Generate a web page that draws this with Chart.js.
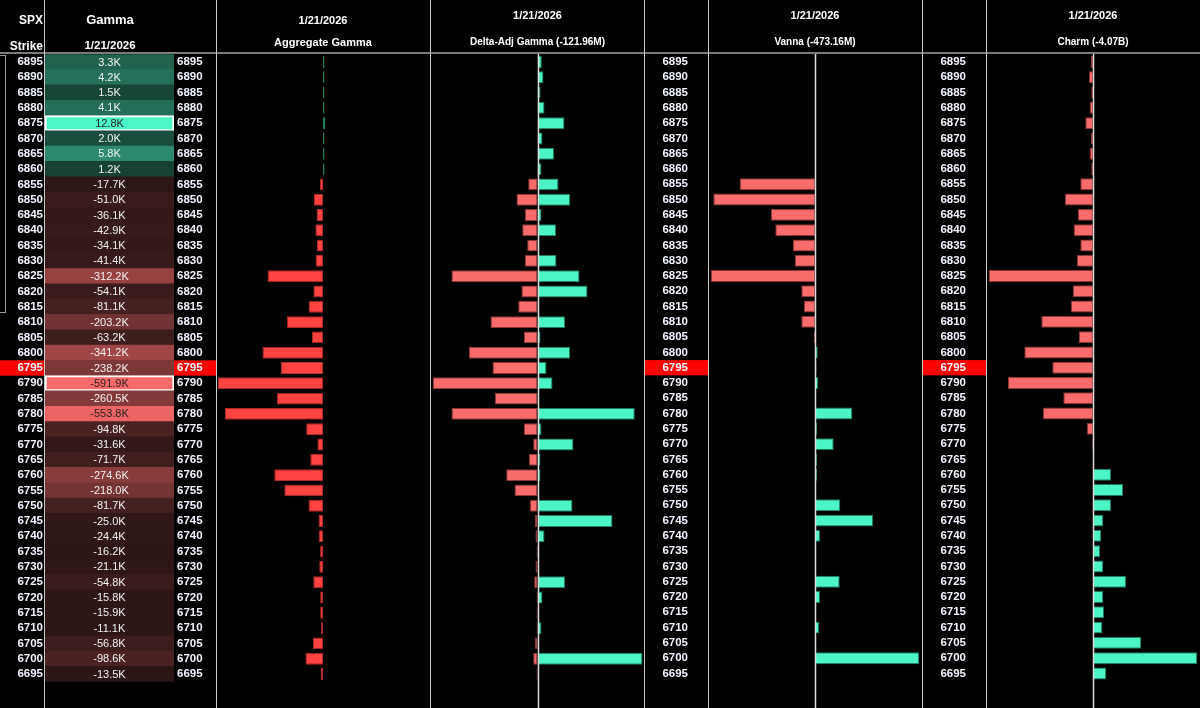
<!DOCTYPE html>
<html>
<head>
<meta charset="utf-8">
<title>SPX Gamma / Vanna / Charm 1/21/2026</title>
<script src="https://cdn.jsdelivr.net/npm/chart.js@4.4.1/dist/chart.umd.min.js"></script>
<style>
  html, body { margin: 0; padding: 0; background: #000; }
  #wrap { position: relative; width: 1200px; height: 708px; overflow: hidden; background: #000;
          font-family: 'Liberation Sans', Arial, sans-serif; color: #fff; }
  .panel { position: absolute; top: 0; height: 708px; }
  .hdr { position: absolute; font-weight: bold; white-space: nowrap; text-align: center; line-height: 1; z-index: 2; }
  .vline { position: absolute; top: 0; width: 1px; height: 708px; background: #c8c8c8; z-index: 3; }
  .hline { position: absolute; left: 0; top: 52px; width: 1200px; height: 2px; background: #7a7a7a; z-index: 3; }
  .box { position: absolute; left: 0; top: 55px; width: 5px; height: 256px; border: 1px solid #9a9a9a; border-left: none; z-index: 3; }
</style>
</head>
<body>
<div id="wrap">
  <div class="panel" style="left:0;width:216px"><canvas id="heat-chart"></canvas></div>
  <div class="panel" style="left:216px;width:214px"><canvas id="agg-chart"></canvas></div>
  <div class="panel" style="left:430px;width:215px"><canvas id="delta-chart"></canvas></div>
  <div class="panel" style="left:645px;width:277px"><canvas id="vanna-chart"></canvas></div>
  <div class="panel" style="left:922px;width:278px"><canvas id="charm-chart"></canvas></div>

  <!-- headers -->
  <div class="hdr" style="left:0;width:43px;top:14px;font-size:12px;text-align:right">SPX</div>
  <div class="hdr" style="left:0;width:43px;top:40px;font-size:12px;text-align:right">Strike</div>
  <div class="hdr" style="left:44px;width:132px;top:13px;font-size:13px">Gamma</div>
  <div class="hdr" style="left:44px;width:132px;top:40px;font-size:11.5px">1/21/2026</div>
  <div class="hdr" style="left:216px;width:214px;top:15px;font-size:11px">1/21/2026</div>
  <div class="hdr" style="left:216px;width:214px;top:37px;font-size:11px">Aggregate Gamma</div>
  <div class="hdr" style="left:430px;width:215px;top:10px;font-size:11px">1/21/2026</div>
  <div class="hdr" style="left:430px;width:215px;top:37px;font-size:10px">Delta-Adj Gamma (-121.96M)</div>
  <div class="hdr" style="left:708px;width:214px;top:10px;font-size:11px">1/21/2026</div>
  <div class="hdr" style="left:708px;width:214px;top:37px;font-size:10px">Vanna (-473.16M)</div>
  <div class="hdr" style="left:986px;width:214px;top:10px;font-size:11px">1/21/2026</div>
  <div class="hdr" style="left:986px;width:214px;top:37px;font-size:10px">Charm (-4.07B)</div>

  <!-- grid lines -->
  <div class="hline"></div>
  <div class="vline" style="left:44px"></div>
  <div class="vline" style="left:216px"></div>
  <div class="vline" style="left:430px"></div>
  <div class="vline" style="left:644px"></div>
  <div class="vline" style="left:708px"></div>
  <div class="vline" style="left:922px"></div>
  <div class="vline" style="left:986px"></div>
  <div class="box"></div>
</div>

<script>
// ---- data (top to bottom) ----
const strikes = ['6895', '6890', '6885', '6880', '6875', '6870', '6865', '6860', '6855', '6850',
                 '6845', '6840', '6835', '6830', '6825', '6820', '6815', '6810', '6805', '6800',
                 '6795', '6790', '6785', '6780', '6775', '6770', '6765', '6760', '6755', '6750',
                 '6745', '6740', '6735', '6730', '6725', '6720', '6715', '6710', '6705', '6700', '6695'];
const spotStrike = '6795';

// Gamma in K
const gammaK = [3.3, 4.2, 1.5, 4.1, 12.8, 2.0, 5.8, 1.2, -17.7, -51.0,
                -36.1, -42.9, -34.1, -41.4, -312.2, -54.1, -81.1, -203.2, -63.2, -341.2,
                -238.2, -591.9, -260.5, -553.8, -94.8, -31.6, -71.7, -274.6, -218.0, -81.7,
                -25.0, -24.4, -16.2, -21.1, -54.8, -15.8, -15.9, -11.1, -56.8, -98.6, -13.5];

// Delta-adjusted gamma, relative size (no scale printed)
const deltaAdjNeg = [0, 0, 0, 0, 0, 0, 0, 0, -9.3, -21,
                     -12.7, -15.3, -10.3, -12.7, -86, -16, -19.3, -47, -13.7, -68.7,
                     -45, -104.7, -42.7, -86, -13.7, -4.3, -8.7, -31.3, -23, -7.7,
                     -2.7, -2, -1, -2, -3.3, -1, -1, -1, -2.7, -4.3, -1];
const deltaAdjPos = [4.3, 6, 3, 7, 27, 5, 16.5, 4, 21, 32.5,
                     4, 18.5, 2, 19, 42, 50, 1, 27.5, 3, 32.5,
                     9, 15, 1, 97.3, 4, 36, 3, 3, 0, 35,
                     75, 7, 1, 0, 27.5, 5, 0, 4, 1, 105, 0];

// Vanna, relative size
const vanna = [0, 0, 0, 0, 0, 0, 0, 0, -75.3, -101.7,
               -44, -39.7, -22, -20.3, -104, -13.7, -11, -13.7, -1, 2.7,
               1.5, 3.3, 0, 37.3, 2, 18.7, 2, 2, 0, 25.3,
               58, 5, 1, 0, 24.7, 5, 0, 4.3, 1, 104.3, 0];

// Charm, relative size
const charm = [-2.3, -4, -1.7, -3.3, -7.7, -2.3, -3.3, -1.7, -12.7, -28,
               -15, -19.3, -12.7, -16, -104.3, -20.3, -22, -51.7, -14.3, -68.7,
               -40.7, -85, -29.7, -50, -6, -0.7, 0, 18, 30, 18,
               10.3, 8.3, 7, 10.3, 33, 10.3, 11, 9.3, 48.3, 104.3, 13.3];

// ---- styling ----
const colors = {
    red: { fill: '#f86c6c', line: '#8e3434' },
    aggRed: { fill: '#ff4242', line: '#b02a2a' },
    green: { fill: '#4cf5c6', line: '#1d7a5e' },
    axis: '#dcdcdc',
    label: '#f2f4ff',
    spot: '#ff0000'
};

const ROW_TOP = 54.35;
const ROW_BOTTOM_PAD = 26.35;

Chart.defaults.font.family = "'Liberation Sans', Arial, sans-serif";
Chart.defaults.color = '#ffffff';

const gammaMaxNeg = Math.min(...gammaK);
const gammaMaxPos = Math.max(...gammaK);

function mix(a, b, t) {
    return 'rgb(' + a.map((c, i) => Math.round(c + (b[i] - c) * t)).join(',') + ')';
}

function heatColor(v) {
    if (v < 0) return mix([40, 20, 20], [250, 106, 106], v / gammaMaxNeg);
    return mix([16, 46, 36], [77, 247, 200], v / gammaMaxPos);
}

function heatRatio(v) {
    return v < 0 ? v / gammaMaxNeg : v / gammaMaxPos;
}

// red band behind the spot strike on label axes
const spotHighlight = {
    id: 'spotHighlight',
    beforeDraw(chart, args, opts) {
        if (!opts.axes) return;
        const ctx = chart.ctx;
        const i = strikes.indexOf(spotStrike);
        opts.axes.forEach(id => {
            const s = chart.scales[id];
            const band = (s.bottom - s.top) / strikes.length;
            const y = s.getPixelForValue(i);
            ctx.save();
            ctx.fillStyle = colors.spot;
            ctx.fillRect(s.left, y - band / 2, s.right - s.left, band);
            ctx.restore();
        });
    }
};

// full height zero line
const zeroLine = {
    id: 'zeroLine',
    afterDatasetsDraw(chart, args, opts) {
        if (!opts.show) return;
        const ctx = chart.ctx;
        const x = Math.round(chart.scales.x.getPixelForValue(0)) + 0.5;
        ctx.save();
        ctx.strokeStyle = colors.axis;
        ctx.lineWidth = 1.5;
        ctx.beginPath();
        ctx.moveTo(x, 53);
        ctx.lineTo(x, chart.height);
        ctx.stroke();
        ctx.restore();
    }
};

// value text inside heatmap cells
const cellLabels = {
    id: 'cellLabels',
    afterDatasetsDraw(chart, args, opts) {
        if (!opts.show) return;
        const ctx = chart.ctx;
        const meta = chart.getDatasetMeta(0);
        ctx.save();
        ctx.font = "11px 'Liberation Sans', Arial, sans-serif";
        ctx.textAlign = 'center';
        ctx.textBaseline = 'middle';
        meta.data.forEach((bar, i) => {
            const v = gammaK[i];
            ctx.fillStyle = heatRatio(v) > 0.85 ? '#2a2222' : '#f2f2f2';
            ctx.fillText(v.toFixed(1) + 'K', (bar.x + bar.base) / 2, bar.y + 0.5);
        });
        ctx.restore();
    }
};

Chart.register(spotHighlight, zeroLine, cellLabels);

function labelAxis(position, width, padding) {
    return {
        position: position,
        type: 'category',
        labels: strikes,
        grid: { display: false, drawTicks: false },
        border: { display: false },
        ticks: {
            color: colors.label,
            padding: padding,
            autoSkip: false,
            font: { size: 11.5, weight: 'bold' }
        },
        afterFit(scale) { scale.width = width; }
    };
}

function baseOptions() {
    return {
        responsive: true,
        maintainAspectRatio: false,
        animation: false,
        indexAxis: 'y',
        layout: { padding: { top: ROW_TOP, bottom: ROW_BOTTOM_PAD, left: 0, right: 0 } },
        plugins: {
            legend: { display: false },
            tooltip: { enabled: false }
        }
    };
}

function signed(values, pos, neg) {
    return values.map(v => (v < 0 ? neg : pos));
}

// ---- heatmap column ----
new Chart(document.getElementById('heat-chart'), {
    type: 'bar',
    data: {
        labels: strikes,
        datasets: [{
            data: gammaK.map(() => [0, 1]),
            backgroundColor: ctx => heatColor(gammaK[ctx.dataIndex]),
            borderColor: '#ffffff',
            borderWidth: ctx => {
                const v = gammaK[ctx.dataIndex];
                return (v === gammaMaxNeg || v === gammaMaxPos) ? 2 : 0;
            },
            borderSkipped: false,
            barPercentage: 1,
            categoryPercentage: 1
        }]
    },
    options: {
        ...baseOptions(),
        scales: {
            x: { display: false, min: 0, max: 1 },
            y: labelAxis('left', 45, 2),
            y2: labelAxis('right', 42, 3)
        },
        plugins: {
            ...baseOptions().plugins,
            spotHighlight: { axes: ['y', 'y2'] },
            cellLabels: { show: true }
        }
    }
});

// ---- aggregate gamma ----
new Chart(document.getElementById('agg-chart'), {
    type: 'bar',
    data: {
        labels: strikes,
        datasets: [{
            data: gammaK,
            backgroundColor: signed(gammaK, colors.green.fill, colors.aggRed.fill),
            borderColor: signed(gammaK, colors.green.line, colors.aggRed.line),
            borderWidth: 1,
            borderSkipped: false,
            minBarLength: 1.5,
            barPercentage: 0.78,
            categoryPercentage: 1
        }]
    },
    options: {
        ...baseOptions(),
        scales: {
            x: { display: false, min: -603, max: 603 },
            y: { display: false }
        }
    }
});

// ---- delta-adjusted gamma ----
new Chart(document.getElementById('delta-chart'), {
    type: 'bar',
    data: {
        labels: strikes,
        datasets: [
            {
                data: deltaAdjNeg,
                backgroundColor: colors.red.fill,
                borderColor: colors.red.line,
                borderWidth: 1,
                borderSkipped: false,
                barPercentage: 0.78,
                categoryPercentage: 1
            },
            {
                data: deltaAdjPos,
                backgroundColor: colors.green.fill,
                borderColor: colors.green.line,
                borderWidth: 1,
                borderSkipped: false,
                barPercentage: 0.78,
                categoryPercentage: 1
            }
        ]
    },
    options: {
        ...baseOptions(),
        scales: {
            x: { display: false, stacked: true, min: -107.5, max: 107.5 },
            y: { display: false, stacked: true }
        },
        plugins: {
            ...baseOptions().plugins,
            zeroLine: { show: true }
        }
    }
});

// ---- vanna & charm (with own strike column) ----
function greekChart(id, values, axisWidth, padding) {
    new Chart(document.getElementById(id), {
        type: 'bar',
        data: {
            labels: strikes,
            datasets: [{
                data: values,
                backgroundColor: signed(values, colors.green.fill, colors.red.fill),
                borderColor: signed(values, colors.green.line, colors.red.line),
                borderWidth: 1,
                borderSkipped: false,
                barPercentage: 0.78,
                categoryPercentage: 1
            }]
        },
        options: {
            ...baseOptions(),
            scales: {
                x: { display: false, min: -107, max: 107 },
                y: labelAxis('left', axisWidth, padding)
            },
            plugins: {
                ...baseOptions().plugins,
                spotHighlight: { axes: ['y'] },
                zeroLine: { show: true }
            }
        }
    });
}

greekChart('vanna-chart', vanna, 63, 20);
greekChart('charm-chart', charm, 64, 20);
</script>
</body>
</html>
